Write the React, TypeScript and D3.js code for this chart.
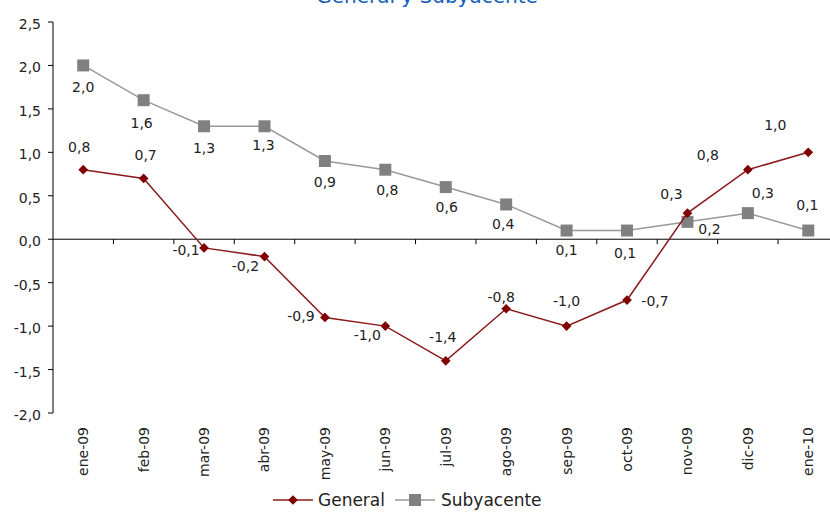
import React from "react";
import * as d3 from "d3";

const categories = ["ene-09","feb-09","mar-09","abr-09","may-09","jun-09","jul-09","ago-09","sep-09","oct-09","nov-09","dic-09","ene-10"];
const general = [0.8, 0.7, -0.1, -0.2, -0.9, -1.0, -1.4, -0.8, -1.0, -0.7, 0.3, 0.8, 1.0];
const subyacente = [2.0, 1.6, 1.3, 1.3, 0.9, 0.8, 0.6, 0.4, 0.1, 0.1, 0.2, 0.3, 0.1];
const yTicks = [-2.0, -1.5, -1.0, -0.5, 0.0, 0.5, 1.0, 1.5, 2.0, 2.5];
const seriesNames = ["General", "Subyacente"];
const title = "General y Subyacente";

// label offsets (dx, dy of label baseline centre relative to the point)
const generalLabelOffsets: [number, number][] = [
  [-4, -18], [2, -18], [-18, 7], [-19, 14], [-24, 4], [-18, 14], [-3, -19], [-5, -7], [0, -20], [28, 6], [-16, -14], [-40, -10], [-33, -22],
];
const subLabelOffsets: [number, number][] = [
  [0, 27], [-2, 28], [0, 27], [-1, 24], [0, 26], [2, 25], [1, 25], [-3, 25], [0, 24], [-2, 27], [22, 12], [15, -15], [-1, -21],
];

const fmt = (v: number) => d3.format(".1f")(v).replace(".", ",").replace("−", "-");

export default function App() {
  const W = 830, H = 512;
  const x = d3.scaleBand<string>().domain(categories).range([53, 838.5]);
  const y = d3.scaleLinear().domain([-2, 2.5]).range([413, 22]);
  const cx = (c: string) => (x(c) as number) + x.bandwidth() / 2;
  const line = d3.line<number>().x((_, i) => cx(categories[i])).y((v) => y(v));
  const font = "'DejaVu Sans', Arial, sans-serif";
  const textColor = "#222";
  const genColor = "#800000";
  const subColor = "#808080";
  const diamond = d3.symbol().type(d3.symbolDiamond2).size(60)() as string;
  const square = (s: number) => `M${-s / 2},${-s / 2}h${s}v${s}h${-s}Z`;

  return (
    <svg width={W} height={H} style={{ position: "absolute", left: 0, top: 0, background: "#fff" }} fontFamily={font}>
      <rect x={0} y={0} width={W} height={H} fill="#fff" />
      <text x={427} y={3} textAnchor="middle" fontSize={20} fill="#1560BD">{title}</text>

      {/* y axis */}
      <line x1={53} x2={53} y1={y(2.5)} y2={y(-2)} stroke="#000" strokeWidth={1} />
      {yTicks.map((t) => (
        <g key={t}>
          <line x1={48} x2={53} y1={y(t)} y2={y(t)} stroke="#000" />
          <text x={41} y={y(t) + 7} textAnchor="end" fontSize={14} fill={textColor}>{fmt(t)}</text>
        </g>
      ))}

      {/* zero axis */}
      <line x1={53} x2={838.5} y1={y(0)} y2={y(0)} stroke="#000" />
      {categories.map((c) => (
        <line key={"t" + c} x1={(x(c) as number) + x.bandwidth()} x2={(x(c) as number) + x.bandwidth()} y1={y(0)} y2={y(0) + 5} stroke="#000" />
      ))}
      {categories.map((c) => (
        <text key={"l" + c} transform={`translate(${cx(c)},427) rotate(-90)`} textAnchor="end" dy="0.35em" fontSize={14} fill={textColor}>{c}</text>
      ))}

      {/* Subyacente */}
      <path d={line(subyacente) as string} fill="none" stroke="#999" strokeWidth={1.5} />
      {subyacente.map((v, i) => (
        <path key={"s" + i} d={square(12)} transform={`translate(${cx(categories[i])},${y(v)})`} fill={subColor} />
      ))}

      {/* General */}
      <path d={line(general) as string} fill="none" stroke="#8B1A1A" strokeWidth={1.5} />
      {general.map((v, i) => (
        <path key={"g" + i} d={diamond} transform={`translate(${cx(categories[i])},${y(v)})`} fill={genColor} />
      ))}

      {/* labels */}
      {subyacente.map((v, i) => (
        <text key={"sl" + i} x={cx(categories[i]) + subLabelOffsets[i][0]} y={y(v) + subLabelOffsets[i][1]} textAnchor="middle" fontSize={14} fill={textColor}>{fmt(v)}</text>
      ))}
      {general.map((v, i) => (
        <text key={"gl" + i} x={cx(categories[i]) + generalLabelOffsets[i][0]} y={y(v) + generalLabelOffsets[i][1]} textAnchor="middle" fontSize={14} fill={textColor}>{fmt(v)}</text>
      ))}

      {/* legend */}
      <g>
        <line x1={273} x2={313} y1={500} y2={500} stroke="#8B1A1A" strokeWidth={1.5} />
        <path d={diamond} transform="translate(293,500)" fill={genColor} />
        <text x={318} y={506} fontSize={17} fill={textColor}>{seriesNames[0]}</text>
        <line x1={395} x2={435} y1={500} y2={500} stroke="#999" strokeWidth={1.5} />
        <path d={square(12)} transform="translate(415,500)" fill={subColor} />
        <text x={441} y={506} fontSize={17} fill={textColor}>{seriesNames[1]}</text>
      </g>
    </svg>
  );
}
